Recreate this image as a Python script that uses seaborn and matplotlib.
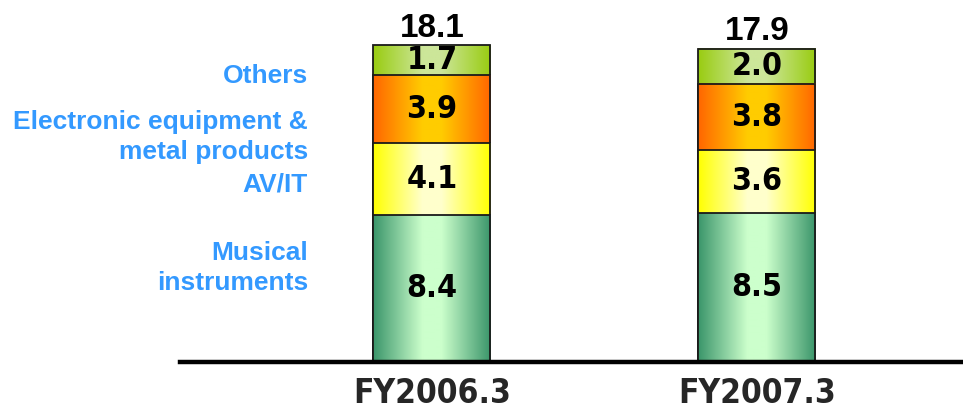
import numpy as np
import pandas as pd
import matplotlib
matplotlib.use("Agg")
import matplotlib.pyplot as plt
from matplotlib.colors import LinearSegmentedColormap
import seaborn as sns

# Data
categories = ["FY2006.3", "FY2007.3"]
musical = [8.4, 8.5]
avit = [4.1, 3.6]
electronic = [3.9, 3.8]
others = [1.7, 2.0]
totals = [18.1, 17.9]

segment_names = ["Musical instruments", "AV/IT", "Electronic equipment & metal products", "Others"]
segments = [musical, avit, electronic, others]

# gradient colours (edge, centre) for each segment
gradients = {
    "Musical instruments": ("#3a956a", "#ccffcc"),
    "AV/IT": ("#ffff00", "#ffffcc"),
    "Electronic equipment & metal products": ("#ff6600", "#ffcc00"),
    "Others": ("#99cc11", "#cce699"),
}

sns.set_theme(style="white")
plt.rcParams["font.family"] = ["Liberation Sans", "DejaVu Sans"]

fig = plt.figure(figsize=(9.63, 4.09), dpi=100)
ax = fig.add_axes([180 / 963, 1 - 362 / 409, 1 - 180 / 963, 362 / 409])

# cumulative heights, drawn from the top layer down (classic seaborn stacking)
cum = np.cumsum(np.array(segments), axis=0)
df = pd.DataFrame({"category": categories})

grad = np.linspace(0, 1, 256).reshape(1, -1)
for z, i in enumerate(range(len(segments) - 1, -1, -1)):
    name = segment_names[i]
    df["height"] = cum[i]
    n_before = len(ax.patches)
    sns.barplot(data=df, x="category", y="height", width=0.36, ax=ax,
                color="none", edgecolor="#1a1a1a", linewidth=1.3)
    edge, centre = gradients[name]
    cmap = LinearSegmentedColormap.from_list(
        name, [(0, edge), (0.42, centre), (0.58, centre), (1, edge)])
    for p in ax.patches[n_before:]:
        x0, y0 = p.get_x(), p.get_y()
        w, h = p.get_width(), p.get_height()
        ax.imshow(grad, cmap=cmap, aspect="auto", extent=[x0, x0 + w, y0, y0 + h],
                  zorder=2 * z + 1, interpolation="bilinear")
        p.set_facecolor("none")
        p.set_zorder(2 * z + 1.5)

# value labels inside segments
narrow = ["DejaVu Sans"]
for j in range(len(categories)):
    bottom = 0
    for seg in segments:
        ax.text(j, bottom + seg[j] / 2, f"{seg[j]:.1f}", ha="center", va="center",
                fontsize=23, fontweight="bold", family=narrow, fontstretch="condensed",
                color="black", zorder=20)
        bottom += seg[j]
    ax.text(j, totals[j] + 0.08, f"{totals[j]:.1f}", ha="center", va="bottom",
            fontsize=24, fontweight="bold", color="black", zorder=20)

ax.set_xlim(-0.775, 1.634)
ax.set_ylim(0, 362 / 17.5)
ax.set_xlabel("")
ax.set_ylabel("")
ax.set_yticks([])
for s in ["top", "right", "left"]:
    ax.spines[s].set_visible(False)
ax.spines["bottom"].set_linewidth(3.2)
ax.spines["bottom"].set_color("black")
ax.spines["bottom"].set_zorder(30)
ax.tick_params(axis="x", length=0, pad=11)
for lbl in ax.get_xticklabels():
    lbl.set_fontsize(24)
    lbl.set_fontweight("bold")
    lbl.set_family(narrow)
    lbl.set_fontstretch("condensed")
ax.set_facecolor("white")

# category labels on the left
blue = "#3399ff"
left_labels = [("Others", 76), ("Electronic equipment &\nmetal products", 137),
               ("AV/IT", 185), ("Musical\ninstruments", 268)]
for text, ypix in left_labels:
    fig.text(308 / 963, 1 - ypix / 409, text, ha="right", va="center",
             fontsize=19, fontweight="bold", color=blue, linespacing=1.35)

fig.savefig("out.png", dpi=100, facecolor="white")
